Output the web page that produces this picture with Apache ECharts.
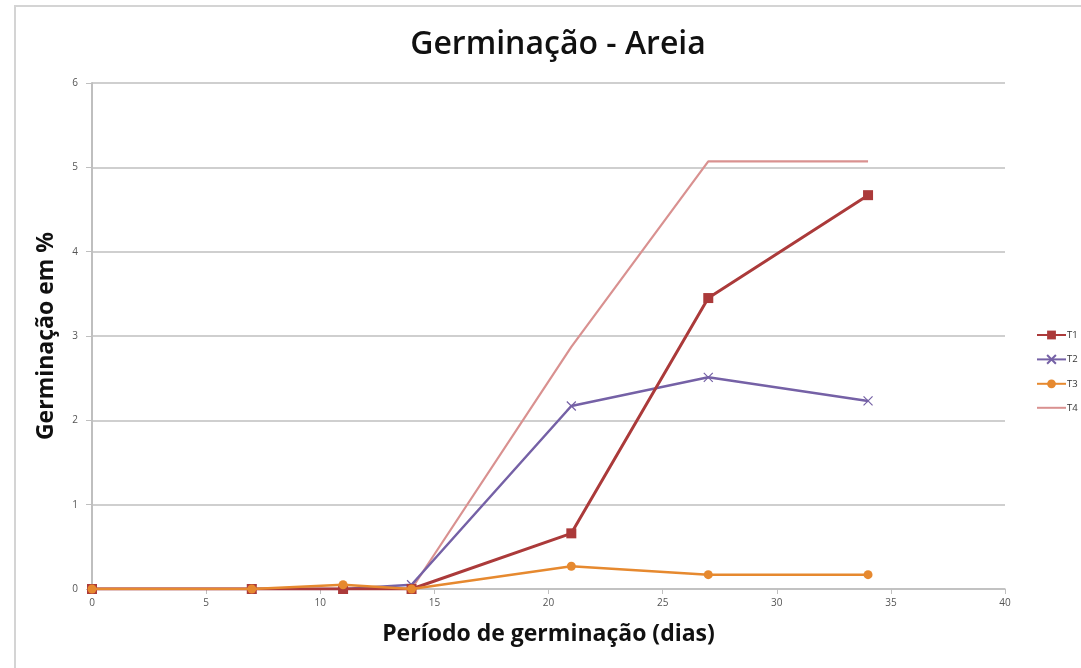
<!DOCTYPE html>
<html>
<head>
<meta charset="utf-8">
<script src="https://cdn.jsdelivr.net/npm/echarts@6/dist/echarts.min.js"></script>
<style>html,body{margin:0;padding:0;background:#fff}#c{width:1081px;height:668px}</style>
</head>
<body>
<div id="c"></div>
<script>
const days = [0, 7, 11, 14, 21, 27, 34];
const T1 = [0, 0, 0, 0, 0.66, 3.45, 4.67];
const T2 = [0, 0, 0, 0.05, 2.17, 2.51, 2.23];
const T3 = [0, 0, 0.05, 0, 0.27, 0.17, 0.17];
const T4 = [0, 0, 0, 0, 2.87, 5.07, 5.07];
const seriesNames = ['T1', 'T2', 'T3', 'T4'];
const titleText = 'Germinação - Areia';
const xTitle = 'Período de germinação (dias)';
const yTitle = 'Germinação em %';

const pair = arr => days.map((d, i) => [d, arr[i]]);
const chart = echarts.init(document.getElementById('c'));
const font = '"Open Sans", "DejaVu Sans", sans-serif';
chart.setOption({
  animation: false,
  backgroundColor: '#fff',
  title: {
    text: titleText, left: 553, top: 24, textAlign: 'center',
    textStyle: { fontFamily: font, fontSize: 32, fontWeight: 600, color: '#111' }
  },
  graphic: [{
    type: 'polyline', silent: true,
    shape: { points: [[15, 668], [15, 6], [1081, 6]] },
    style: { stroke: '#d4d4d4', lineWidth: 2, fill: null }
  }],
  legend: {
    orient: 'vertical', left: 1031, top: 325, itemWidth: 29, itemHeight: 11, itemGap: 14,
    textStyle: { fontFamily: font, fontSize: 9.5, color: '#333', padding: [0, 0, 0, -4] },
    data: ['T1', 'T2', 'T3', { name: 'T4', itemStyle: { opacity: 0 } }]
  },
  grid: { left: 92, right: 76, top: 83, bottom: 79 },
  xAxis: {
    type: 'value', min: 0, max: 40, interval: 5,
    name: xTitle, nameLocation: 'middle', nameGap: 34,
    nameTextStyle: { fontFamily: font, fontSize: 23, fontWeight: 'bold', color: '#111' },
    axisLine: { lineStyle: { color: '#bfbfbf', width: 1.5 } },
    axisTick: { show: true, length: 5, lineStyle: { color: '#bfbfbf' } },
    axisLabel: { fontFamily: font, fontSize: 10, color: '#555', margin: 9 },
    splitLine: { show: false }
  },
  yAxis: {
    type: 'value', min: 0, max: 6, interval: 1,
    name: yTitle, nameLocation: 'middle', nameGap: 34,
    nameTextStyle: { fontFamily: font, fontSize: 23, fontWeight: 'bold', color: '#111' },
    axisLine: { show: true, lineStyle: { color: '#bfbfbf', width: 2 } },
    axisTick: { show: true, length: 6, lineStyle: { color: '#bfbfbf' } },
    axisLabel: { fontFamily: font, fontSize: 10, color: '#555', margin: 14 },
    splitLine: { lineStyle: { color: '#bfbfbf', width: 1.5 } }
  },
  series: [
    { name: 'T1', type: 'line', data: pair(T1), symbol: 'rect', symbolSize: 10,
      lineStyle: { color: '#ab3a3a', width: 3 }, itemStyle: { color: '#ab3a3a' }, z: 4 },
    { name: 'T2', type: 'line', data: pair(T2), symbol: 'path://M0,0L10,10M10,0L0,10', symbolSize: 9,
      lineStyle: { color: '#7561a6', width: 2.5 }, itemStyle: { color: '#7561a6', borderColor: '#7561a6', borderWidth: 1.2 }, z: 3 },
    { name: 'T3', type: 'line', data: pair(T3), symbol: 'circle', symbolSize: 9,
      lineStyle: { color: '#e6892f', width: 2.5 }, itemStyle: { color: '#e6892f' }, z: 5 },
    { name: 'T4', type: 'line', data: pair(T4), symbol: 'none',
      lineStyle: { color: '#d99190', width: 2.2 }, itemStyle: { color: '#d99190' }, z: 2 }
  ]
});
</script>
</body>
</html>
